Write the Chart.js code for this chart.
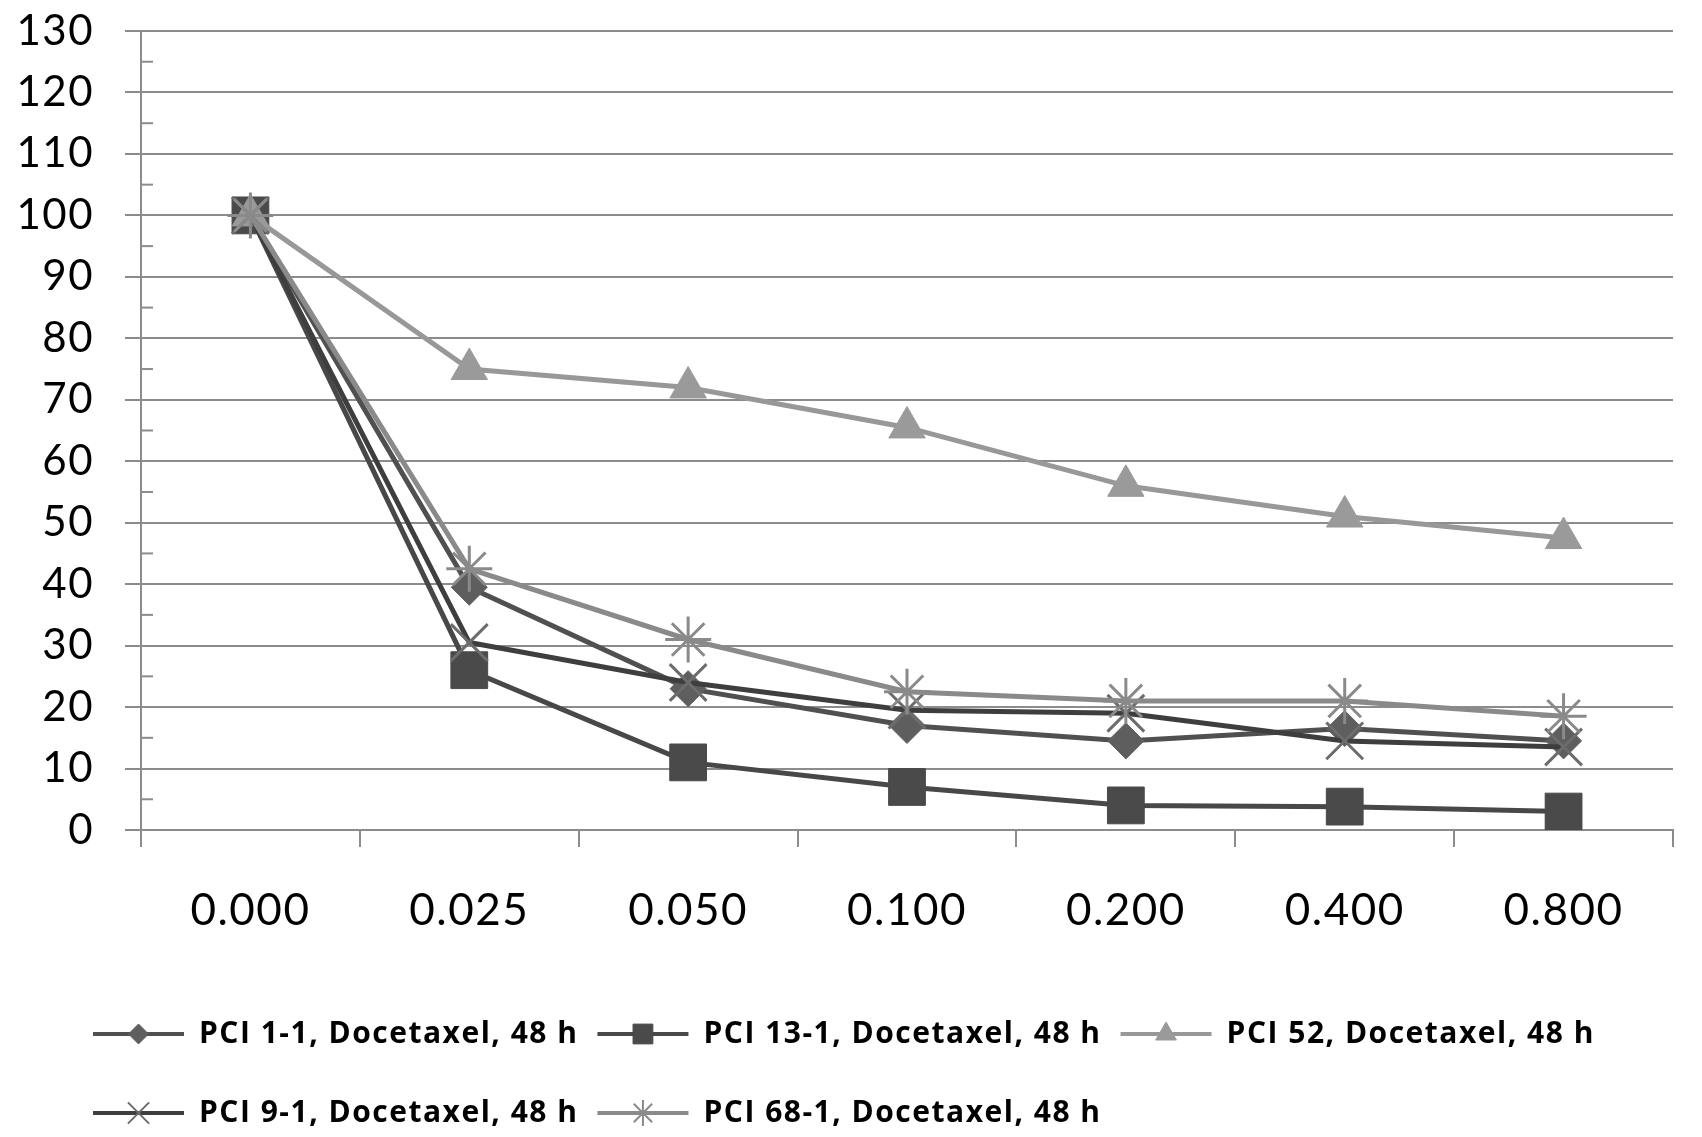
<!DOCTYPE html>
<html>
<head>
<meta charset="utf-8">
<script src="https://cdn.jsdelivr.net/npm/chart.js@4.4.1/dist/chart.umd.min.js"></script>
<style>
  html, body { margin: 0; padding: 0; background: #fff; }
  #wrap { width: 1702px; height: 1137px; }
</style>
</head>
<body>
<div id="wrap"><canvas id="doseChart"></canvas></div>
<script>
// Docetaxel dose (x categories)
const doses = ['0.000', '0.025', '0.050', '0.100', '0.200', '0.400', '0.800'];

// Series names and values
const seriesNames = [
    'PCI 1-1, Docetaxel, 48 h',
    'PCI 13-1, Docetaxel, 48 h',
    'PCI 52, Docetaxel, 48 h',
    'PCI 9-1, Docetaxel, 48 h',
    'PCI 68-1, Docetaxel, 48 h'
];
const pci1 = [100, 39.5, 23, 17, 14.5, 16.5, 14.5];
const pci13 = [100, 26, 11, 7, 4, 3.8, 3];
const pci52 = [100, 75, 72, 65.5, 56, 51, 47.5];
const pci9 = [100, 30.5, 24, 19.5, 19, 14.5, 13.5];
const pci68 = [100, 42.5, 31, 22.5, 21, 21, 18.5];

// y axis range
const yMin = 0;
const yMax = 130;
const yStep = 10;

const GRID = '#8c8c8c';
const FONT = 'Lato, "Open Sans", "Liberation Sans", sans-serif';
const LEGEND_FONT = '"Open Sans", Lato, "Liberation Sans", sans-serif';

// styling per series (Excel-like grey scheme)
const styles = [
    { line: '#505050', fill: '#5e5e5e', point: 'rectRot', radius: 18, legendRadius: 10, border: 1 },
    { line: '#484848', fill: '#4a4a4a', point: 'rect', radius: 26, legendRadius: 14, border: 1 },
    { line: '#989898', fill: '#9a9a9a', point: 'triangle', radius: 21, legendRadius: 12, border: 1 },
    { line: '#3e3e3e', fill: '#6c6c6c', point: 'crossRot', radius: 26, legendRadius: 15, border: 3 },
    { line: '#8a8a8a', fill: '#8a8a8a', point: 'star', radius: 23, legendRadius: 13, border: 3 }
];

const seriesValues = [pci1, pci13, pci52, pci9, pci68];

const datasets = seriesValues.map((values, i) => ({
    label: seriesNames[i],
    data: values,
    borderColor: styles[i].line,
    borderWidth: 5,
    backgroundColor: styles[i].fill,
    pointStyle: styles[i].point,
    pointRadius: styles[i].radius,
    pointBackgroundColor: styles[i].fill,
    pointBorderColor: styles[i].fill,
    pointBorderWidth: styles[i].border,
    tension: 0,
    fill: false,
    // Excel draws the last series on top
    order: seriesValues.length - i
}));

// the original's text is a little more spaced out than the installed fonts
const textSpacing = {
    id: 'textSpacing',
    beforeLayout(chart) {
        chart.ctx.letterSpacing = '1.5px';
    },
    beforeDraw(chart) {
        chart.ctx.letterSpacing = '1.5px';
    }
};

// minor ticks on the inside of the y axis, halfway between the labels
const minorTicks = {
    id: 'minorTicks',
    beforeDatasetsDraw(chart) {
        const y = chart.scales.y;
        const ctx = chart.ctx;
        ctx.save();
        ctx.strokeStyle = GRID;
        ctx.lineWidth = 2;
        for (let v = yMin + yStep / 2; v < yMax; v += yStep) {
            const py = y.getPixelForValue(v);
            ctx.beginPath();
            ctx.moveTo(y.right, py);
            ctx.lineTo(y.right + 12, py);
            ctx.stroke();
        }
        ctx.restore();
    }
};

// push the legend block in a bit from the left edge, like the original
const legendIndent = {
    id: 'legendIndent',
    afterLayout(chart) {
        chart.legend.left += 59;
        chart.legend.right += 59;
    }
};

// legend sample: a short line with the series marker in the middle
const legendSamples = {
    id: 'legendSamples',
    afterDraw(chart) {
        const legend = chart.legend;
        const ctx = chart.ctx;
        const boxWidth = legend.options.labels.boxWidth;
        legend.legendItems.forEach((item, i) => {
            const hb = legend.legendHitBoxes[i];
            const st = styles[item.datasetIndex];
            const cy = hb.top + hb.height / 2;
            ctx.save();
            ctx.strokeStyle = st.line;
            ctx.lineWidth = 4;
            ctx.beginPath();
            ctx.moveTo(hb.left, cy);
            ctx.lineTo(hb.left + boxWidth, cy);
            ctx.stroke();
            ctx.fillStyle = st.fill;
            ctx.strokeStyle = st.fill;
            ctx.lineWidth = st.border === 1 ? 1 : 2;
            Chart.helpers.drawPoint(ctx, {
                pointStyle: st.point,
                radius: st.legendRadius,
                rotation: 0,
                borderWidth: ctx.lineWidth
            }, hb.left + boxWidth / 2, cy);
            ctx.restore();
        });
    }
};

const ctx = document.getElementById('doseChart').getContext('2d');
new Chart(ctx, {
    type: 'line',
    data: {
        labels: doses,
        datasets: datasets
    },
    options: {
        responsive: true,
        maintainAspectRatio: false,
        animation: false,
        layout: {
            padding: { left: 15, right: 25, top: 31, bottom: -16 }
        },
        plugins: {
            tooltip: { enabled: false },
            legend: {
                position: 'bottom',
                align: 'start',
                labels: {
                    boxWidth: 91,
                    boxHeight: 60,
                    padding: 19,
                    color: '#000',
                    font: { family: LEGEND_FONT, size: 30, weight: 'bold' },
                    generateLabels(chart) {
                        return chart.data.datasets.map((ds, i) => ({
                            text: ds.label,
                            datasetIndex: i,
                            fillStyle: 'rgba(0,0,0,0)',
                            strokeStyle: 'rgba(0,0,0,0)',
                            lineWidth: 0,
                            hidden: false
                        }));
                    }
                }
            }
        },
        scales: {
            x: {
                offset: true,
                grid: {
                    offset: true,
                    drawOnChartArea: false,
                    color: GRID,
                    lineWidth: 2,
                    tickLength: 17
                },
                border: { color: GRID, width: 2 },
                ticks: {
                    color: '#000',
                    padding: 37,
                    maxRotation: 0,
                    font: { family: FONT, size: 44 }
                },
                afterFit(scale) {
                    scale.height = 155;
                }
            },
            y: {
                min: yMin,
                max: yMax,
                grid: {
                    color: GRID,
                    lineWidth: 2,
                    tickLength: 16
                },
                border: { color: GRID, width: 2 },
                ticks: {
                    stepSize: yStep,
                    color: '#000',
                    padding: 31,
                    font: { family: FONT, size: 42 }
                },
                afterFit(scale) {
                    scale.width = 126;
                    // top label may stick out above the plot, as in the original
                    scale.paddingTop = 0;
                }
            }
        }
    },
    plugins: [textSpacing, minorTicks, legendIndent, legendSamples]
});
</script>
</body>
</html>
